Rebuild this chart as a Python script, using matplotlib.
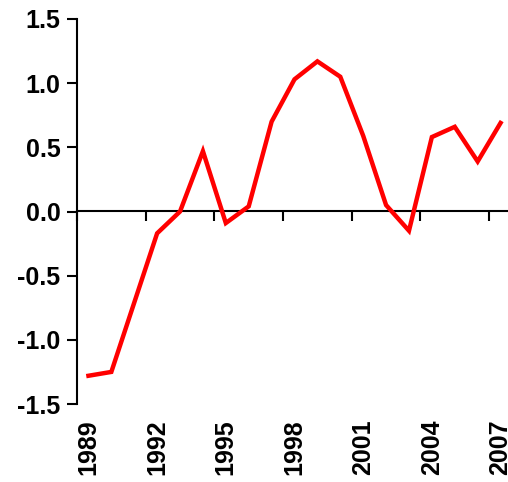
import matplotlib
matplotlib.use("Agg")
import matplotlib.pyplot as plt
import numpy as np

years = list(range(1989, 2008))
values = [-1.28, -1.25, -0.71, -0.17, 0.0, 0.47, -0.09, 0.04, 0.70, 1.03, 1.17,
          1.05, 0.59, 0.05, -0.15, 0.58, 0.66, 0.39, 0.69]
yticks = [-1.5, -1.0, -0.5, 0.0, 0.5, 1.0, 1.5]
ytick_labels = ["-1.5", "-1.0", "-0.5", "0.0", "0.5", "1.0", "1.5"]
xlabel_years = [1989, 1992, 1995, 1998, 2001, 2004, 2007]

plt.rcParams['font.family'] = ['Liberation Sans', 'DejaVu Sans']

fig = plt.figure(figsize=(5.08, 4.82), dpi=100)
ax = fig.add_axes([77/508, 1-404/482, 435/508, 385/482])

ax.plot(years, values, color='#ff0000', lw=3.2, solid_joinstyle='miter', zorder=3, clip_on=False)

ax.set_xlim(1988.5, 2007.5)
ax.set_ylim(-1.5, 1.5)

for s in ['top', 'right', 'bottom']:
    ax.spines[s].set_visible(False)
ax.spines['left'].set_linewidth(1.5)

ax.set_yticks(yticks)
ax.set_yticklabels(ytick_labels, fontsize=18, fontweight='bold')
ax.tick_params(axis='y', direction='out', length=7, width=1.5, pad=5)

ax.set_xticks(xlabel_years)
ax.set_xticklabels([str(y) for y in xlabel_years], rotation=90, fontsize=18, fontweight='bold')
ax.tick_params(axis='x', length=0, pad=11)

sec = ax.secondary_xaxis(0.5)
sec.set_xticks(np.arange(1988.5, 2008, 3))
sec.set_xticklabels([])
sec.tick_params(axis='x', direction='in', length=7, width=1.5)
for sp in sec.spines.values():
    sp.set_linewidth(1.5)

fig.savefig("out.png", dpi=100)
